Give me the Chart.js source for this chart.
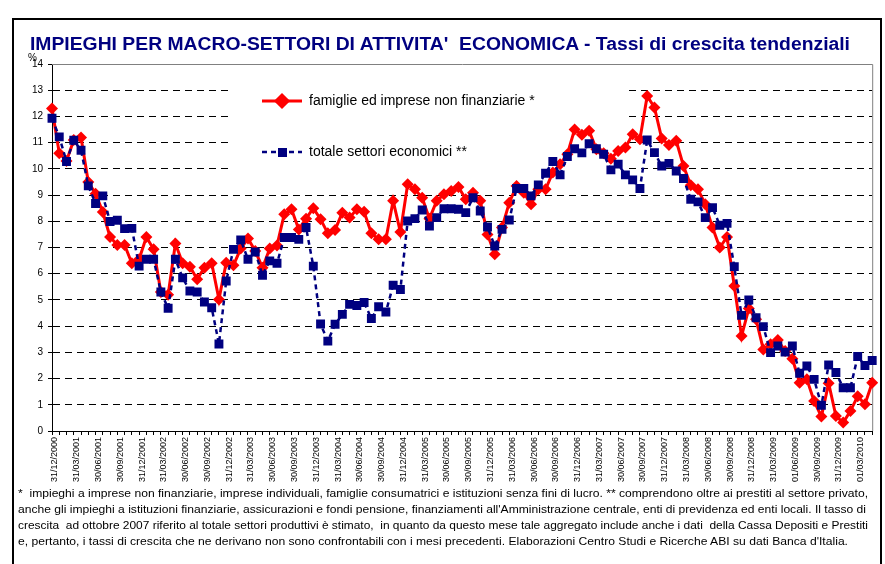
<!DOCTYPE html>
<html>
<head>
<meta charset="utf-8">
<script src="https://cdn.jsdelivr.net/npm/chart.js@4.4.1/dist/chart.umd.min.js"></script>
<style>
	body { margin: 0; background: #fff; }
	#wrap { position: relative; width: 885px; height: 564px; overflow: hidden; font-family: "Liberation Sans", Arial, sans-serif; }
	#mycanvas { position: absolute; left: 0; top: 0; }
	#frame { position: absolute; left: 12px; top: 18px; width: 866px; height: 600px; border: 2px solid #000; pointer-events: none; }
	#title { position: absolute; left: 30px; top: 35px; font-weight: bold; font-size: 18px; line-height: 18px; color: #000080; white-space: pre; transform-origin: 0 0; }
	.note { position: absolute; left: 18px; font-size: 11px; line-height: 14px; color: #000; white-space: pre; transform-origin: 0 0; }
</style>
</head>
<body>
<div id="wrap">
	<canvas id="mycanvas" width="885" height="564"></canvas>
	<div id="title">IMPIEGHI PER MACRO-SETTORI DI ATTIVITA'  ECONOMICA - Tassi di crescita tendenziali</div>
	<div class="note" id="n1" style="top:486px">*  impieghi a imprese non finanziarie, imprese individuali, famiglie consumatrici e istituzioni senza fini di lucro. ** comprendono oltre ai prestiti al settore privato,</div>
	<div class="note" id="n2" style="top:502px">anche gli impieghi a istituzioni finanziarie, assicurazioni e fondi pensione, finanziamenti all'Amministrazione centrale, enti di previdenza ed enti locali. Il tasso di</div>
	<div class="note" id="n3" style="top:518px">crescita  ad ottobre 2007 riferito al totale settori produttivi è stimato,  in quanto da questo mese tale aggregato include anche i dati  della Cassa Depositi e Prestiti</div>
	<div class="note" id="n4" style="top:534px">e, pertanto, i tassi di crescita che ne derivano non sono confrontabili con i mesi precedenti. Elaborazioni Centro Studi e Ricerche ABI su dati Banca d'Italia.</div>
	<div id="frame"></div>
</div>
<script>
// months from 31/12/2000 to 31/05/2010 (one point per month)
var categories = [
	"31/12/2000",
	"31/01/2001","28/02/2001","31/03/2001","30/04/2001","31/05/2001","30/06/2001","31/07/2001","31/08/2001","30/09/2001","31/10/2001","30/11/2001","31/12/2001",
	"31/01/2002","28/02/2002","31/03/2002","30/04/2002","31/05/2002","30/06/2002","31/07/2002","31/08/2002","30/09/2002","31/10/2002","30/11/2002","31/12/2002",
	"31/01/2003","28/02/2003","31/03/2003","30/04/2003","31/05/2003","30/06/2003","31/07/2003","31/08/2003","30/09/2003","31/10/2003","30/11/2003","31/12/2003",
	"31/01/2004","29/02/2004","31/03/2004","30/04/2004","31/05/2004","30/06/2004","31/07/2004","31/08/2004","30/09/2004","31/10/2004","30/11/2004","31/12/2004",
	"31/01/2005","28/02/2005","31/03/2005","30/04/2005","31/05/2005","30/06/2005","31/07/2005","31/08/2005","30/09/2005","31/10/2005","30/11/2005","31/12/2005",
	"31/01/2006","28/02/2006","31/03/2006","30/04/2006","31/05/2006","30/06/2006","31/07/2006","31/08/2006","30/09/2006","31/10/2006","30/11/2006","31/12/2006",
	"31/01/2007","28/02/2007","31/03/2007","30/04/2007","31/05/2007","30/06/2007","31/07/2007","31/08/2007","30/09/2007","31/10/2007","30/11/2007","31/12/2007",
	"31/01/2008","29/02/2008","31/03/2008","30/04/2008","31/05/2008","30/06/2008","31/07/2008","31/08/2008","30/09/2008","31/10/2008","30/11/2008","31/12/2008",
	"31/01/2009","28/02/2009","31/03/2009","30/04/2009","31/05/2009","01/06/2009","31/07/2009","31/08/2009","30/09/2009","31/10/2009","30/11/2009","31/12/2009",
	"31/01/2010","28/02/2010","01/03/2010","30/04/2010","31/05/2010"
];

var famiglie = [
	12.3,
	10.6, 10.3, 11.1, 11.2, 9.5, 9.05, 8.35, 7.4, 7.1, 7.1, 6.4, 6.55,
	7.4, 6.93, 5.3, 5.2, 7.15, 6.4, 6.27, 5.79, 6.23, 6.4, 5.02, 6.42,
	6.32, 6.96, 7.34, 6.87, 6.23, 6.96, 7.08, 8.27, 8.46, 7.69, 8.1, 8.5,
	8.08, 7.54, 7.67, 8.33, 8.14, 8.46, 8.36, 7.54, 7.31, 7.31, 8.78, 7.59,
	9.41, 9.22, 8.9, 8.1, 8.78, 9.03, 9.16, 9.31, 8.84, 9.09, 8.78, 7.5,
	6.74, 7.76, 8.71, 9.35, 9.09, 8.65, 9.22, 9.22, 9.86, 10.18, 10.56, 11.5,
	11.3, 11.45, 10.75, 10.6, 10.39, 10.68, 10.81, 11.32, 11.13, 12.78, 12.34, 11.16,
	10.91, 11.07, 10.11, 9.37, 9.22, 8.65, 7.76, 7.0, 7.4, 5.53, 3.62, 4.67,
	4.26, 3.11, 3.31, 3.47, 3.05, 2.76, 1.84, 1.97, 1.14, 0.55, 1.82, 0.57,
	0.32, 0.76, 1.33, 1.02, 1.84
];

var totale = [
	11.93,
	11.22, 10.28, 11.09, 10.71, 9.35, 8.68, 8.97, 7.99, 8.04, 7.72, 7.73, 6.29,
	6.55, 6.55, 5.3, 4.68, 6.55, 5.84, 5.34, 5.3, 4.92, 4.7, 3.32, 5.72,
	6.93, 7.29, 6.55, 6.83, 5.94, 6.49, 6.4, 7.38, 7.38, 7.31, 7.76, 6.29,
	4.08, 3.43, 4.07, 4.45, 4.83, 4.79, 4.9, 4.29, 4.74, 4.54, 5.56, 5.4,
	8.01, 8.1, 8.43, 7.82, 8.14, 8.48, 8.48, 8.46, 8.33, 8.9, 8.39, 7.78,
	7.06, 7.69, 8.05, 9.25, 9.25, 8.97, 9.39, 9.83, 10.28, 9.77, 10.47, 10.77,
	10.61, 10.96, 10.77, 10.56, 9.96, 10.18, 9.77, 9.58, 9.25, 11.1, 10.62, 10.11,
	10.21, 9.92, 9.63, 8.84, 8.74, 8.14, 8.52, 7.85, 7.92, 6.27, 4.41, 5.0,
	4.32, 3.98, 2.99, 3.24, 3.01, 3.24, 2.2, 2.48, 1.97, 0.98, 2.52, 2.23,
	1.65, 1.65, 2.84, 2.5, 2.69
];

var seriesNames = ["famiglie ed imprese non finanziarie *", "totale settori economici **"];
var yTicks = [0, 14, 1]; // min, max, step

var RED = "#ff0000";
var NAVY = "#000080";
var FONT = "'Liberation Sans', Arial, sans-serif";

// white box behind the legend, plot border, then legend + "%" on top
var decor = {
	id: "decor",
	beforeDatasetsDraw: function(chart) {
		var ctx = chart.ctx, a = chart.chartArea;
		ctx.save();
		ctx.fillStyle = "#fff";
		ctx.fillRect(228, 68, 397, 112);
		ctx.strokeStyle = "#808080";
		ctx.lineWidth = 1;
		ctx.beginPath();
		ctx.moveTo(a.left, a.top + 0.5);
		ctx.lineTo(a.right + 0.5, a.top + 0.5);
		ctx.lineTo(a.right + 0.5, a.bottom);
		ctx.stroke();
		ctx.restore();
	},
	afterDraw: function(chart) {
		var ctx = chart.ctx;
		ctx.save();
		// red sample
		ctx.strokeStyle = RED;
		ctx.lineWidth = 3;
		ctx.beginPath();
		ctx.moveTo(262, 101);
		ctx.lineTo(302, 101);
		ctx.stroke();
		Chart.helpers.drawPoint(ctx, {pointStyle: "rectRot", radius: 6, borderWidth: 1}, 282, 101);
		ctx.fillStyle = RED;
		ctx.fill();
		// blue sample
		ctx.strokeStyle = NAVY;
		ctx.fillStyle = NAVY;
		ctx.lineWidth = 2.5;
		ctx.setLineDash([5, 4]);
		ctx.beginPath();
		ctx.moveTo(262, 152);
		ctx.lineTo(302, 152);
		ctx.stroke();
		ctx.setLineDash([]);
		ctx.fillRect(278, 148, 9, 9);
		// texts
		ctx.fillStyle = "#000";
		ctx.font = "14px " + FONT;
		ctx.textBaseline = "middle";
		ctx.fillText(seriesNames[0], 309, 101);
		ctx.fillText(seriesNames[1], 309, 152);
		ctx.font = "10px " + FONT;
		ctx.fillText("%", 28, 58);
		ctx.restore();
	}
};

var ctx = document.getElementById("mycanvas");

var lineGraph = new Chart(ctx, {
	type: "line",
	data: {
		labels: categories,
		datasets: [
			{
				label: seriesNames[1],
				data: totale,
				borderColor: NAVY,
				backgroundColor: NAVY,
				borderWidth: 2.5,
				borderDash: [5, 4],
				pointStyle: "rect",
				pointRadius: 6.3,
				pointBorderWidth: 0,
				tension: 0
			},
			{
				label: seriesNames[0],
				data: famiglie,
				borderColor: RED,
				backgroundColor: RED,
				borderWidth: 3,
				pointStyle: "rectRot",
				pointRadius: 6,
				pointBorderWidth: 0,
				tension: 0
			}
		]
	},
	options: {
		responsive: false,
		animation: false,
		layout: { padding: { left: 0, right: 8, top: 64, bottom: 0 } },
		plugins: {
			legend: { display: false },
			tooltip: { enabled: false }
		},
		scales: {
			x: {
				offset: false,
				grid: { drawOnChartArea: false, color: "#000", tickLength: 4 },
				border: { color: "#000", width: 1 },
				ticks: {
					autoSkip: false,
					minRotation: 90,
					maxRotation: 90,
					padding: 2,
					labelOffset: 3,
					color: "#000",
					font: { size: 9, family: FONT },
					callback: function(v, i) { return i % 3 === 0 ? categories[i] : ""; }
				},
				afterFit: function(s) { s.height = 133; }
			},
			y: {
				min: yTicks[0],
				max: yTicks[1],
				grid: {
					color: function(c) { return (c.tick.value === 0 || c.tick.value === 14) ? "rgba(0,0,0,0)" : "#000"; },
					tickColor: "#000",
					tickLength: 4
				},
				border: { color: "#000", width: 1, dash: [7, 5] },
				ticks: {
					stepSize: yTicks[2],
					padding: 5,
					color: "#000",
					font: { size: 10, family: FONT }
				},
				afterFit: function(s) { s.width = 52; }
			}
		}
	},
	plugins: [decor]
});

// squeeze the html texts to the widths of the original
function fit(id, w) {
	var el = document.getElementById(id);
	var r = el.getBoundingClientRect().width;
	if (r > 0) el.style.transform = "scaleX(" + (w / r) + ")";
}
fit("title", 820);
fit("n1", 850);
fit("n2", 848);
fit("n3", 850);
fit("n4", 830);
</script>
</body>
</html>
